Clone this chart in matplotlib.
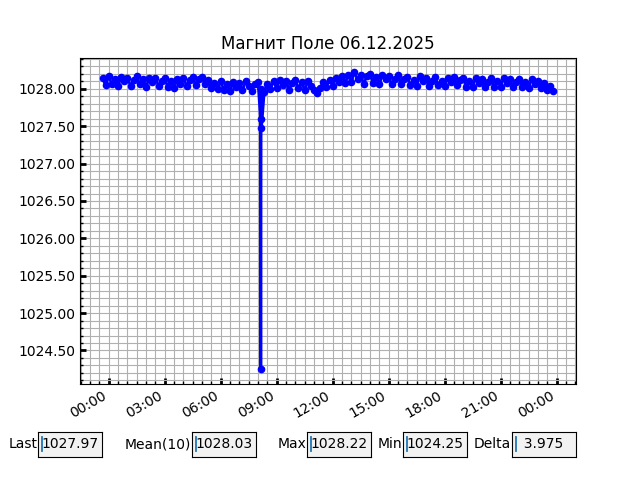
import numpy as np
import pandas as pd
import matplotlib
matplotlib.use('Agg')
import matplotlib.pyplot as plt
import matplotlib.dates as mdates
from matplotlib.ticker import MultipleLocator, FormatStrFormatter

# Заголовок и значения полей внизу
title = 'Магнит Поле 06.12.2025'
box_labels = ['Last', 'Mean(10)', 'Max', 'Min', 'Delta']
box_values = ['1027.97', '1028.03', '1028.22', '1024.25', '  3.975']

# Показания каждые 10 минут, начиная с 05.12 23:40
start = '2025-12-05 23:40'
values = [
    1028.14, 1028.05,
    1028.17, 1028.06, 1028.13, 1028.04, 1028.16, 1028.10,  # 00
    1028.15, 1028.04, 1028.12, 1028.17, 1028.06, 1028.13,  # 01
    1028.03, 1028.14, 1028.09, 1028.15, 1028.04, 1028.11,  # 02
    1028.14, 1028.03, 1028.10, 1028.01, 1028.13, 1028.06,  # 03
    1028.15, 1028.04, 1028.12, 1028.16, 1028.05, 1028.13,  # 04
    1028.16, 1028.06, 1028.12, 1028.01, 1028.08, 1028.00,  # 05
    1028.10, 1027.99, 1028.06, 1027.97, 1028.09, 1028.02,  # 06
    1028.08, 1027.98, 1028.10, 1028.04, 1027.97, 1028.07,  # 07
    1028.09, 1028.00, 1027.96, 1028.07, 1028.00, 1028.10,  # 08
    1028.01, 1028.12, 1028.05, 1028.11, 1027.99, 1028.08,  # 09
    1028.12, 1028.01, 1028.09, 1027.98, 1028.10, 1028.04,  # 10
    1027.99, 1027.95, 1028.01, 1028.09, 1028.03, 1028.12,  # 11
    1028.04, 1028.14, 1028.09, 1028.17, 1028.08, 1028.18,  # 12
    1028.09, 1028.22, 1028.13, 1028.19, 1028.07, 1028.17,  # 13
    1028.20, 1028.08, 1028.16, 1028.06, 1028.19, 1028.13,  # 14
    1028.17, 1028.06, 1028.13, 1028.18, 1028.07, 1028.13,  # 15
    1028.16, 1028.05, 1028.12, 1028.04, 1028.17, 1028.10,  # 16
    1028.15, 1028.04, 1028.11, 1028.16, 1028.05, 1028.11,  # 17
    1028.04, 1028.15, 1028.09, 1028.16, 1028.05, 1028.12,  # 18
    1028.14, 1028.03, 1028.10, 1028.02, 1028.15, 1028.08,  # 19
    1028.13, 1028.03, 1028.09, 1028.14, 1028.02, 1028.10,  # 20
    1028.03, 1028.14, 1028.08, 1028.13, 1028.02, 1028.09,  # 21
    1028.13, 1028.02, 1028.09, 1028.01, 1028.13, 1028.06,  # 22
    1028.11, 1028.01, 1028.08, 1027.99, 1028.04, 1027.97,  # 23
]

# Провал около 08:10
dip_times = ['2025-12-06 08:08', '2025-12-06 08:09', '2025-12-06 08:11']
dip_values = [1027.60, 1024.25, 1027.47]

times = pd.date_range(start, periods=len(values), freq='10min')
s = pd.concat([pd.Series(values, index=times),
               pd.Series(dip_values, index=pd.to_datetime(dip_times))]).sort_index()

fig = plt.figure(figsize=(6.4, 4.8), dpi=100)
ax = fig.add_subplot(111)
ax.plot(s.index, s.values, 'o-', color='blue', linewidth=2, markersize=4.5)

ax.set_title(title)
ax.xaxis.set_major_locator(mdates.HourLocator(byhour=range(0, 24, 3)))
ax.xaxis.set_minor_locator(mdates.MinuteLocator(byminute=[0, 30]))
ax.xaxis.set_major_formatter(mdates.DateFormatter('%H:%M'))
ax.yaxis.set_major_locator(MultipleLocator(0.5))
ax.yaxis.set_minor_locator(MultipleLocator(0.1))
ax.yaxis.set_major_formatter(FormatStrFormatter('%.2f'))
ax.tick_params(which='major', direction='in', length=4, width=2)
ax.tick_params(which='minor', direction='in', length=2.5, width=1)
ax.grid(True, which='both', color='#b0b0b0', linewidth=0.8)
ax.set_axisbelow(True)
fig.autofmt_xdate()

# Поля со значениями
box_x = [0.06, 0.30, 0.48, 0.63, 0.80]
for x, lab, val in zip(box_x, box_labels, box_values):
    bax = fig.add_axes([x, 0.048, 0.1, 0.052])
    bax.set_facecolor('.95')
    bax.set_xticks([])
    bax.set_yticks([])
    bax.set_xlim(0, 1)
    bax.set_ylim(0, 1)
    bax.text(-0.01, 0.5, lab, ha='right', va='center', transform=bax.transAxes, fontsize=10)
    bax.text(0.05, 0.5, val, ha='left', va='center', fontsize=10)
    bax.plot([0.06, 0.06], [0.24, 0.81], color='C0', linewidth=1.3)

fig.savefig('out.png', dpi=100)
